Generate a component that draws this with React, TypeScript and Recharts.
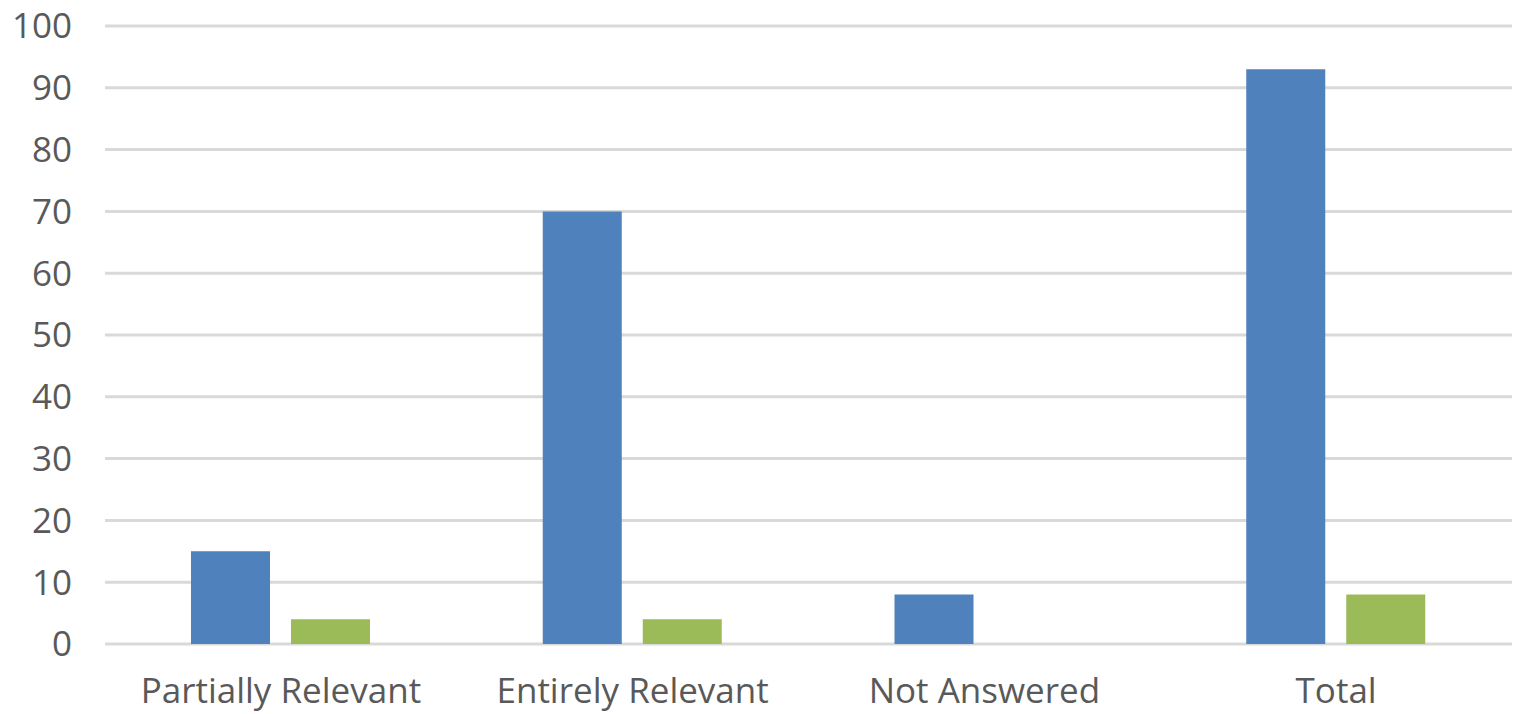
import React from 'react';
import { BarChart, Bar, XAxis, YAxis, CartesianGrid } from 'recharts';

// response categories along the x axis
const categories = ['Partially Relevant', 'Entirely Relevant', 'Not Answered', 'Total'];
// two series per category
const blueValues = [15, 70, 8, 93];
const greenValues = [4, 4, 0, 8];
const yTicks = [0, 10, 20, 30, 40, 50, 60, 70, 80, 90, 100];

const data = categories.map((name, i) => ({
  name,
  blue: blueValues[i],
  green: greenValues[i],
}));

const tickStyle = { fill: '#595959', fontSize: 35, fontFamily: '"Open Sans", sans-serif' };

export default function App() {
  return (
    <div style={{ position: 'fixed', left: 0, top: 0, width: 1514, height: 714, background: '#fff' }}>
      <BarChart
        width={1514}
        height={714}
        data={data}
        margin={{ top: 26, right: 2, left: 0, bottom: 0 }}
        barSize={79}
        barGap={21}
      >
        <CartesianGrid vertical={false} stroke="#d9d9d9" strokeWidth={3} />
        <XAxis
          dataKey="name"
          height={70}
          axisLine={false}
          tickLine={false}
          tickMargin={28}
          tick={tickStyle}
          interval={0}
        />
        <YAxis
          width={105}
          domain={[0, 100]}
          ticks={yTicks}
          axisLine={false}
          tickLine={false}
          tickMargin={27}
          tick={tickStyle}
        />
        <Bar dataKey="blue" fill="#4f81bd" isAnimationActive={false} />
        <Bar dataKey="green" fill="#9bbb59" isAnimationActive={false} />
      </BarChart>
    </div>
  );
}
